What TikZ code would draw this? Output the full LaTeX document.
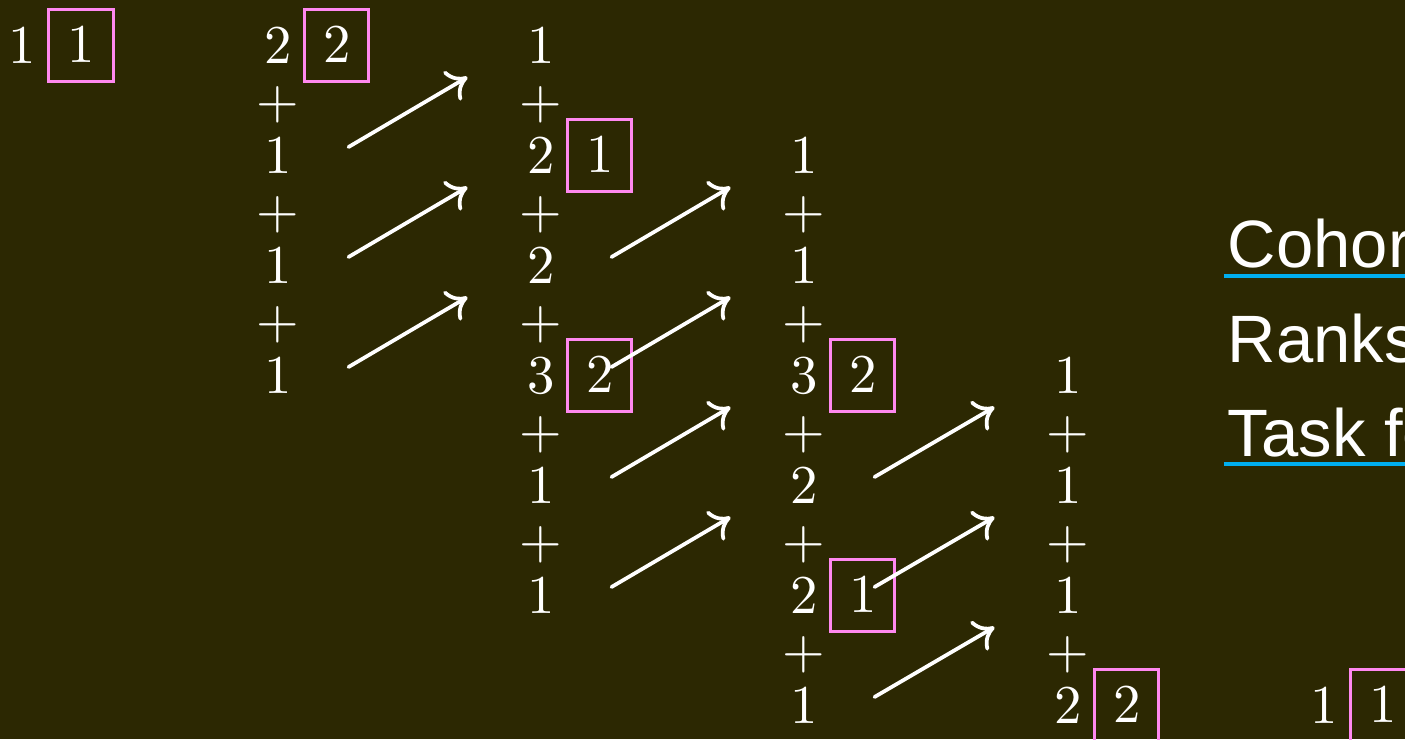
\documentclass[tikz,border=0pt]{standalone}
\usepackage{fontspec}
\setsansfont{Liberation Sans}
\usetikzlibrary{arrows.meta,calc}
\definecolor{bg}{RGB}{44,40,2}
\definecolor{pinkbox}{RGB}{255,136,240}
\definecolor{linkblue}{RGB}{0,174,239}
\begin{document}
\begin{tikzpicture}[x=0.2pt,y=-0.2pt,
  num/.style={text=white,inner sep=0pt,anchor=base,font=\fontsize{11.1}{13}\selectfont},
  hlbox/.style={draw=pinkbox,line width=0.6pt,text=white,inner sep=0pt,
    minimum width=12.8pt,minimum height=14.4pt,anchor=center,font=\fontsize{11.1}{13}\selectfont},
  arr/.style={white,line width=0.75pt,line cap=round,-{To[length=3.8pt,width=6.8pt]}},
  lbl/.style={text=white,anchor=base west,inner sep=0pt,font=\fontsize{13.4}{16}\selectfont\sffamily},
  uline/.style={draw=linkblue,line width=0.75pt}
]
\useasboundingbox (0,0) rectangle (1405,739);
\clip (0,0) rectangle (1405,739);
\fill[bg] (0,0) rectangle (1405,739);

% columns of sums
\node[num] (c0-0) at (22,63) {$1$};
\foreach \v [count=\i from 0] in {2,+,1,+,1,+,1}
  \node[num] (c1-\i) at (278,{63+55*\i}) {$\v$};
\foreach \v [count=\i from 0] in {1,+,2,+,2,+,3,+,1,+,1}
  \node[num] (c2-\i) at (541,{63+55*\i}) {$\v$};
\foreach \v [count=\i from 2] in {1,+,1,+,3,+,2,+,2,+,1}
  \node[num] (c3-\i) at (804,{63+55*\i}) {$\v$};
\foreach \v [count=\i from 6] in {1,+,1,+,1,+,2}
  \node[num] (c4-\i) at (1068,{63+55*\i}) {$\v$};
\node[num] (c5-12) at (1324,{63+55*12}) {$1$};

% highlighted boxes
\foreach \x/\r/\v/\n in {22/0/1/b0,278/0/2/b1,541/2/1/b2a,541/6/2/b2b,804/6/2/b3a,804/10/1/b3b,1068/12/2/b4,1324/12/1/b5}
  \node[hlbox] (\n) at ({\x+59},{63+55*\r-18}) {$\v$};

% arrows
\foreach \xa/\xb/\k [count=\j] in {278/541/2,278/541/4,278/541/6,541/804/4,541/804/6,541/804/8,541/804/10,804/1068/8,804/1068/10,804/1068/12}{
  \coordinate (s\j) at ({\xa+70.5},{63+55*\k-26});
  \coordinate (e\j) at ({\xb-73.5},{63+55*(\k-2)+14});
  \draw[arr] (s\j) -- (e\j);
}

% right-hand labels
\node[lbl] (cohort) at (1227,267) {Cohort};
\node[lbl] (ranks) at (1227,362) {Ranks};
\node[lbl] (task) at (1227,456) {Task force};
\draw[uline] ($(cohort.base west)+(-3,9)$) -- ($(cohort.base east)+(0,9)$);
\draw[uline] ($(task.base west)+(-3,8)$) -- ($(task.base east)+(0,8)$);
\end{tikzpicture}
\end{document}
